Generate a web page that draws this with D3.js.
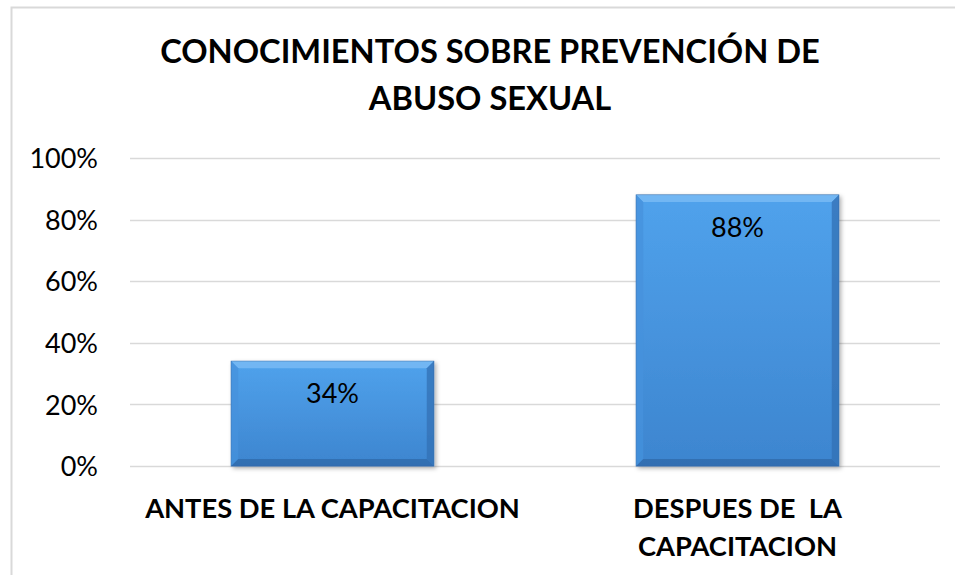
<!DOCTYPE html>
<html>
<head>
<meta charset="utf-8">
<script src="https://cdn.jsdelivr.net/npm/d3@7"></script>
<style>
  body { margin: 0; background: #fff; }
  svg { display: block; font-family: Lato, "Open Sans", sans-serif; }
</style>
</head>
<body>
<svg></svg>
<script>
"use strict";

var titleLines = ["CONOCIMIENTOS SOBRE PREVENCIÓN DE", "ABUSO SEXUAL"];
var categories = ["ANTES DE LA CAPACITACION", "DESPUES DE  LA CAPACITACION"];
var categoryLines = [["ANTES DE LA CAPACITACION"], ["DESPUES DE  LA", "CAPACITACION"]];
var values = [0.34, 0.88];
var yTicks = [0, 0.2, 0.4, 0.6, 0.8, 1];

var width = 955, height = 575;
var svg = d3.select("svg").attr("width", width).attr("height", height);

var margin = { top: 158, right: 15, bottom: 109, left: 130 };

var x = d3.scaleBand().domain(categories)
  .range([margin.left, width - margin.right])
  .paddingInner(0.5).paddingOuter(0.25);
var y = d3.scaleLinear().domain([0, 1]).range([height - margin.bottom, margin.top]);

var defs = svg.append("defs");

var face = defs.append("linearGradient").attr("id", "face")
  .attr("x1", 0).attr("y1", 0).attr("x2", 0).attr("y2", 1);
face.append("stop").attr("offset", "0").attr("stop-color", "#50a2ec");
face.append("stop").attr("offset", "1").attr("stop-color", "#3d85cf");

var shadow = defs.append("filter").attr("id", "shadow")
  .attr("x", "-10%").attr("y", "-10%").attr("width", "130%").attr("height", "130%");
shadow.append("feDropShadow").attr("dx", 2).attr("dy", 2).attr("stdDeviation", 2)
  .attr("flood-color", "#000").attr("flood-opacity", 0.3);

// chart frame
svg.append("rect")
  .attr("x", 11.5).attr("y", 7.5)
  .attr("width", width).attr("height", height)
  .attr("fill", "none").attr("stroke", "#d9d9d9").attr("stroke-width", 2);

// gridlines
svg.append("g").selectAll("line").data(yTicks).enter().append("line")
  .attr("x1", margin.left).attr("x2", width - margin.right)
  .attr("y1", function (d) { return Math.round(y(d)) + 0.5; })
  .attr("y2", function (d) { return Math.round(y(d)) + 0.5; })
  .attr("stroke", "#d9d9d9").attr("stroke-width", 1.5);

// y axis labels
var yAxis = d3.axisLeft(y).tickValues(yTicks).tickFormat(d3.format(".0%")).tickSize(0).tickPadding(0);
svg.append("g").attr("transform", "translate(98,0)").call(yAxis)
  .call(function (g) { g.select(".domain").remove(); })
  .selectAll("text")
  .attr("font-family", "Lato, sans-serif")
  .attr("font-size", 27).attr("fill", "#000").attr("dy", "0.36em");

// bars
var bev = 7;
var bars = svg.append("g").selectAll("g").data(values).enter().append("g")
  .attr("filter", "url(#shadow)");

bars.append("rect")
  .attr("x", function (d, i) { return x(categories[i]); })
  .attr("y", function (d) { return y(d); })
  .attr("width", x.bandwidth())
  .attr("height", function (d) { return y(0) - y(d); })
  .attr("fill", "url(#face)")
  .attr("stroke", "#3672b3").attr("stroke-width", 1);

function bevel(d, i, side) {
  var x0 = x(categories[i]), x1 = x0 + x.bandwidth(), y0 = y(d), y1 = y(0);
  var p;
  if (side === "top") p = [[x0, y0], [x1, y0], [x1 - bev, y0 + bev], [x0 + bev, y0 + bev]];
  if (side === "left") p = [[x0, y0], [x0 + bev, y0 + bev], [x0 + bev, y1 - bev], [x0, y1]];
  if (side === "right") p = [[x1, y0], [x1, y1], [x1 - bev, y1 - bev], [x1 - bev, y0 + bev]];
  if (side === "bottom") p = [[x0, y1], [x0 + bev, y1 - bev], [x1 - bev, y1 - bev], [x1, y1]];
  return p.map(function (q) { return q.join(","); }).join(" ");
}

var bevelColors = { top: "#7ebef5", left: "#4592dc", right: "#3370b4", bottom: "#2f67a8" };
["top", "left", "right", "bottom"].forEach(function (side) {
  bars.append("polygon")
    .attr("points", function (d, i) { return bevel(d, i, side); })
    .attr("fill", bevelColors[side]).attr("opacity", 0.75);
});

// data labels
svg.append("g").selectAll("text").data(values).enter().append("text")
  .attr("x", function (d, i) { return x(categories[i]) + x.bandwidth() / 2; })
  .attr("y", function (d) { return y(d) + 42; })
  .attr("text-anchor", "middle")
  .attr("font-size", 27).attr("fill", "#000")
  .text(function (d) { return d3.format(".0%")(d); });

// category labels
var cat = svg.append("g").selectAll("text").data(categoryLines).enter().append("text")
  .attr("x", function (d, i) { return x(categories[i]) + x.bandwidth() / 2; })
  .attr("y", 518)
  .attr("text-anchor", "middle")
  .attr("font-weight", "bold").attr("font-size", 23).attr("fill", "#000");
cat.selectAll("tspan").data(function (d) { return d; }).enter().append("tspan")
  .attr("x", function () { return d3.select(this.parentNode).attr("x"); })
  .attr("dy", function (d, j) { return j === 0 ? 0 : 38; })
  .attr("xml:space", "preserve")
  .style("white-space", "pre")
  .text(function (d) { return d; });

// fit category labels to the reference width
var c0 = cat.nodes()[0].getComputedTextLength();
cat.attr("font-size", 23 * 375 / c0);

// title
var title = svg.append("g").selectAll("text").data(titleLines).enter().append("text")
  .attr("x", 490)
  .attr("y", function (d, i) { return 63 + i * 47; })
  .attr("text-anchor", "middle")
  .attr("font-weight", "bold").attr("font-size", 31).attr("fill", "#000")
  .text(function (d) { return d; });

// fit title to the reference width
var w0 = title.nodes()[0].getComputedTextLength();
title.attr("font-size", 31 * 660 / w0);
</script>
</body>
</html>
